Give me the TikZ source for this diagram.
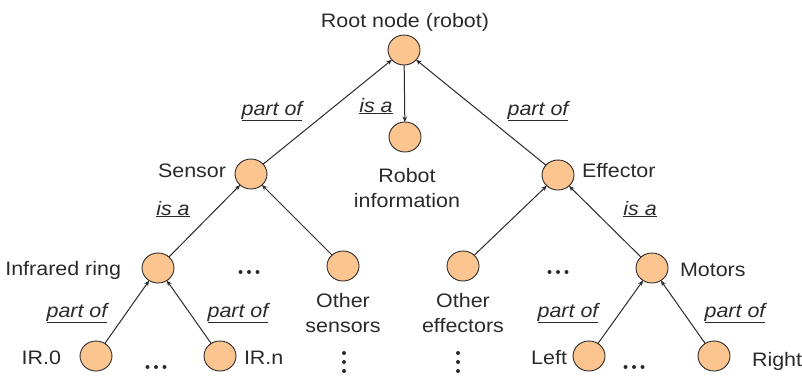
\documentclass[tikz,border=0pt]{standalone}
\usepackage{fontspec}
\setmainfont{Liberation Sans}[FakeStretch=1.1]
\usetikzlibrary{arrows.meta,shapes.geometric}
\definecolor{peach}{HTML}{FCC590}
\definecolor{ink}{HTML}{2A2A2A}
\begin{document}
\begin{tikzpicture}[x=1pt,y=-1pt,
  every node/.style={inner sep=0pt,outer sep=0pt,text=ink,font=\fontsize{19.5}{25}\selectfont},
  concept/.style={ellipse,draw=ink,line width=0.9pt,fill=peach,minimum width=32pt,minimum height=30pt},
  link/.style={draw=ink,line width=1pt,-{Stealth[length=5.5pt,width=4.5pt]}},
  rel/.style={anchor=base},
  dot/.style={fill=ink,draw=none,circle,minimum size=4pt}]
\useasboundingbox (0,0) rectangle (802,376);

% concept nodes
\node[concept] (root)  at (404,50)  {};
\node[concept] (info)  at (405,137) {};
\node[concept] (sens)  at (251,174) {};
\node[concept] (eff)   at (558,175) {};
\node[concept] (ring)  at (158,268) {};
\node[concept] (osens) at (343,266) {};
\node[concept] (oeff)  at (463,266) {};
\node[concept] (mot)   at (652,268) {};
\node[concept] (ir0)   at (96,356)  {};
\node[concept] (irn)   at (220,356) {};
\node[concept] (left)  at (589,356) {};
\node[concept] (right) at (714,356) {};

% node labels (multi-line ones are placed by the baseline of their last line)
\node[anchor=base] (troot) at (405,27) {Root node (robot)};
\node[anchor=base,align=center] (tinfo) at (407,207) {Robot\\information};
\node[anchor=base east] (tsens) at (226,177) {Sensor};
\node[anchor=base west] (teff) at (582,177) {Effector};
\node[anchor=base east] (tring) at (121,275) {Infrared ring};
\node[anchor=base west] (tmot) at (680,276) {Motors};
\node[anchor=base,align=center] (tosens) at (343,332) {Other\\sensors};
\node[anchor=base,align=center] (toeff) at (463,332) {Other\\effectors};
\node[anchor=base east] (tir0) at (61,364) {IR.0};
\node[anchor=base west] (tirn) at (244,364) {IR.n};
\node[anchor=base east] (tleft) at (567,364) {Left};
\node[anchor=base west] (tright) at (752,366) {Right};

% connectors
\draw[link] (sens) -- (root);
\draw[link] (eff) -- (root);
\draw[link] (root) -- (info);
\draw[link] (ring) -- (sens);
\draw[link] (osens) -- (sens);
\draw[link] (oeff) -- (eff);
\draw[link] (mot) -- (eff);
\draw[link] (ir0) -- (ring);
\draw[link] (irn) -- (ring);
\draw[link] (left) -- (mot);
\draw[link] (right) -- (mot);

% relation labels
\node[rel] (r1) at (272,115) {\underline{\itshape part of}};
\node[rel] (r2) at (376,112) {\underline{\itshape is a}};
\node[rel] (r3) at (538,115) {\underline{\itshape part of}};
\node[rel] (r4) at (173,215) {\underline{\itshape is a}};
\node[rel] (r5) at (640,215) {\underline{\itshape is a}};
\node[rel] (r6) at (77,317)  {\underline{\itshape part of}};
\node[rel] (r7) at (238,317) {\underline{\itshape part of}};
\node[rel] (r8) at (568,317) {\underline{\itshape part of}};
\node[rel] (r9) at (735,317) {\underline{\itshape part of}};

% ellipsis marks
\foreach \cx/\cy in {249/272, 558/272, 156/367, 634/367}{
  \foreach \d in {-8.5,0,8.5}
    \node[dot] at (\cx+\d,\cy) {};
}
\foreach \cx in {344,458}{
  \foreach \cy in {353,362,371}
    \node[dot] at (\cx,\cy) {};
}
\end{tikzpicture}
\end{document}
